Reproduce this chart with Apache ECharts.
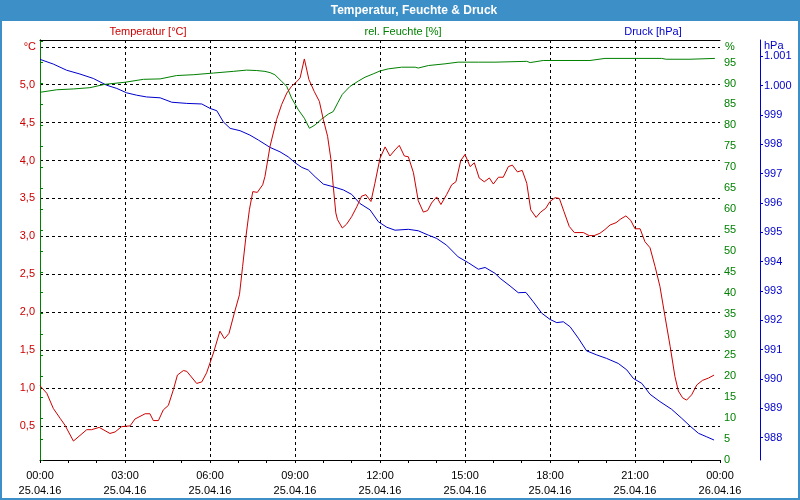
<!DOCTYPE html>
<html>
<head>
<meta charset="utf-8">
<script src="https://cdn.jsdelivr.net/npm/echarts@6/dist/echarts.min.js"></script>
<style>
html,body{margin:0;padding:0;background:#fff;}
#chart{width:800px;height:500px;}
</style>
</head>
<body>
<div id="chart"></div>
<script>
// ---- data (hours since 25.04.16 00:00) ----
const tempTimes = [0,0.24,0.47,0.71,0.88,1.18,1.65,1.82,2.09,2.47,2.65,2.88,3.18,3.35,3.71,3.88,4.0,4.18,4.35,4.53,4.71,4.85,5.06,5.18,5.53,5.71,5.88,6.12,6.35,6.51,6.67,6.86,7.04,7.15,7.27,7.39,7.51,7.67,7.86,7.94,8.12,8.35,8.53,8.71,8.88,9.06,9.18,9.33,9.49,9.68,9.86,10.0,10.15,10.27,10.35,10.44,10.5,10.67,10.82,11.0,11.18,11.35,11.5,11.68,11.82,12.0,12.18,12.35,12.53,12.68,12.86,13.0,13.18,13.35,13.53,13.68,13.82,14.0,14.15,14.35,14.53,14.68,14.85,15.0,15.18,15.33,15.5,15.68,15.86,16.0,16.18,16.35,16.53,16.67,16.85,17.02,17.18,17.32,17.51,17.67,17.85,18.0,18.18,18.33,18.49,18.68,18.86,19.18,19.38,19.56,19.76,19.94,20.12,20.33,20.5,20.68,20.85,21.0,21.18,21.35,21.53,21.71,21.88,22.06,22.24,22.41,22.53,22.68,22.82,23.0,23.18,23.38,23.59,23.79];
const tempValues = [1.03,0.93,0.73,0.60,0.51,0.30,0.45,0.45,0.48,0.40,0.42,0.49,0.50,0.59,0.66,0.66,0.57,0.57,0.71,0.77,0.98,1.17,1.23,1.22,1.06,1.08,1.20,1.46,1.75,1.65,1.72,1.99,2.23,2.60,3.00,3.35,3.59,3.58,3.68,3.79,4.19,4.54,4.74,4.89,4.98,5.04,5.09,5.34,5.07,4.91,4.78,4.54,4.32,4.01,3.66,3.31,3.22,3.11,3.16,3.26,3.39,3.53,3.55,3.46,3.70,4.03,4.18,4.06,4.14,4.20,4.06,4.05,3.84,3.47,3.32,3.34,3.44,3.52,3.42,3.55,3.68,3.72,4.00,4.08,3.92,3.97,3.77,3.72,3.77,3.69,3.78,3.78,3.92,3.94,3.85,3.87,3.70,3.35,3.25,3.32,3.37,3.46,3.51,3.50,3.33,3.13,3.05,3.05,3.01,3.01,3.04,3.09,3.15,3.18,3.23,3.27,3.21,3.10,3.10,2.93,2.85,2.60,2.34,1.94,1.55,1.15,0.96,0.87,0.84,0.91,1.04,1.10,1.13,1.17];

const humTimes = [0,0.59,1.18,1.76,2.29,3.0,3.65,4.24,4.82,5.41,6.12,6.82,7.29,7.65,7.94,8.12,8.29,8.53,8.71,8.88,9.12,9.33,9.51,9.71,9.94,10.18,10.35,10.51,10.67,10.94,11.24,11.47,11.76,12.0,12.29,12.76,13.24,13.35,13.71,14.29,14.76,15.47,16.06,17.18,17.3,17.76,19.41,19.94,21.94,22.1,22.94,23.0,23.82];
const humValues = [87.9,88.5,88.7,89.0,89.8,90.3,91.0,91.1,91.9,92.1,92.5,92.9,93.2,93.1,92.9,92.6,92.1,90.5,89.3,86.5,83.7,81.7,79.3,80.1,81.5,82.7,83.3,85.4,87.4,89.3,90.6,91.5,92.3,93.0,93.5,93.9,93.9,93.7,94.3,94.7,95.1,95.1,95.1,95.3,95.0,95.5,95.5,96.0,96.0,95.8,95.8,96.0,96.0];

const pressTimes = [0,0.47,0.94,1.41,1.88,2.35,2.71,3.06,3.41,3.76,4.24,4.65,5.18,5.71,6.0,6.24,6.47,6.71,7.06,7.41,7.71,8.12,8.47,8.76,9.0,9.24,9.47,9.71,10.0,10.35,10.71,11.0,11.29,11.65,11.94,12.24,12.53,13.0,13.35,13.71,14.0,14.35,14.76,15.12,15.47,15.71,16.06,16.24,16.59,16.88,17.15,17.41,17.71,18.0,18.24,18.47,18.71,19.0,19.29,19.65,20.0,20.41,20.71,20.94,21.24,21.53,21.88,22.29,22.65,22.94,23.24,23.53,23.79];
const pressValues = [1000.89,1000.73,1000.52,1000.39,1000.24,1000.01,999.90,999.75,999.67,999.61,999.58,999.43,999.39,999.37,999.22,999.14,998.76,998.54,998.46,998.31,998.14,997.89,997.74,997.57,997.37,997.21,997.12,996.89,996.64,996.55,996.44,996.29,995.98,995.76,995.36,995.17,995.07,995.10,995.05,994.90,994.79,994.56,994.16,993.96,993.74,993.80,993.60,993.43,993.17,992.94,992.95,992.63,992.24,992.03,991.92,991.95,991.78,991.39,990.96,990.82,990.70,990.53,990.31,990.02,989.85,989.48,989.23,988.97,988.66,988.40,988.15,988.03,987.92];

const tempLabels = [0.5,1.0,1.5,2.0,2.5,3.0,3.5,4.0,4.5,5.0];
const humLabels = [0,5,10,15,20,25,30,35,40,45,50,55,60,65,70,75,80,85,90,95];
const humTicks = [0,5,10,15,20,25,30,35,40,45,50,55,60,65,70,75,80,85,90,95,100];
const pressLabels = [988,989,990,991,992,993,994,995,996,997,998,999,1000,1001];

const RED = '#cc0000', GREEN = '#008000', BLUE = '#0000cc', FRAME = '#3d8fc7';
const FONT = 'Liberation Sans';

const zip = (a, b) => a.map((t, i) => [t, b[i]]);

const chart = echarts.init(document.getElementById('chart'), null, {renderer: 'canvas'});
const dash = {color: '#000', width: 1, type: [3, 3]};

chart.setOption({
  animation: false,
  backgroundColor: '#fff',
  textStyle: {fontFamily: FONT},
  grid: {left: 40, right: 80, top: 40, bottom: 40, containLabel: false, outerBoundsMode: 'none'},
  xAxis: [{
    type: 'value', min: 0, max: 24, interval: 3, position: 'bottom',
    axisLine: {show: true, lineStyle: {color: '#000', width: 1}},
    axisTick: {show: true, inside: false, length: 3, lineStyle: {color: '#000'}},
    minorTick: {show: true, splitNumber: 3, length: 3, lineStyle: {color: '#000'}},
    minorSplitLine: {show: false},
    splitLine: {show: true, showMinLine: false, showMaxLine: false, lineStyle: dash},
    axisLabel: {
      color: '#000', fontFamily: FONT, fontSize: 11, lineHeight: 15, margin: 8,
      formatter: function (v) {
        const h = v % 24;
        return String(h).padStart(2, '0') + ':00\n' + (v >= 24 ? '26.04.16' : '25.04.16');
      }
    }
  }, {
    type: 'value', min: 0, max: 24, position: 'top',
    axisLine: {show: true, lineStyle: {color: '#000', width: 1}},
    axisTick: {show: false}, axisLabel: {show: false}, splitLine: {show: false}
  }],
  yAxis: [{
    type: 'value', position: 'left', min: 0.05, max: 5.59,
    splitNumber: 11, minInterval: 0.5, maxInterval: 0.5,
    axisLine: {show: true, lineStyle: {color: '#000', width: 1}},
    axisTick: {show: false},
    splitLine: {show: true, showMinLine: false, showMaxLine: false, lineStyle: dash},
    axisLabel: {
      customValues: tempLabels, color: RED, fontFamily: FONT, fontSize: 11, margin: 5,
      formatter: v => v.toFixed(1).replace('.', ',')
    }
  }, {
    type: 'value', position: 'right', offset: 0, min: 0, max: 100.4,
    axisLine: {show: true, lineStyle: {color: GREEN, width: 1}},
    axisTick: {show: true, customValues: humTicks, length: 3, lineStyle: {color: GREEN}},
    splitLine: {show: false},
    axisLabel: {customValues: humLabels, color: GREEN, fontFamily: FONT, fontSize: 11, margin: 4}
  }, {
    type: 'value', position: 'right', offset: 40, min: 987.24, max: 1001.55,
    axisLine: {show: true, lineStyle: {color: BLUE, width: 1}},
    axisTick: {show: true, customValues: pressLabels, length: 3, lineStyle: {color: BLUE}},
    splitLine: {show: false},
    axisLabel: {
      customValues: pressLabels, color: BLUE, fontFamily: FONT, fontSize: 11, margin: 4,
      formatter: v => v >= 1000 ? '1.' + String(Math.round(v - 1000)).padStart(3, '0') : String(Math.round(v))
    }
  }],
  series: [{
    name: 'Druck', type: 'line', xAxisIndex: 0, yAxisIndex: 2, data: zip(pressTimes, pressValues),
    showSymbol: false, symbol: 'none', lineStyle: {color: BLUE, width: 1}, itemStyle: {color: BLUE}, z: 3
  }, {
    name: 'Feuchte', type: 'line', xAxisIndex: 0, yAxisIndex: 1, data: zip(humTimes, humValues),
    showSymbol: false, symbol: 'none', lineStyle: {color: GREEN, width: 1}, itemStyle: {color: GREEN}, z: 3
  }, {
    name: 'Temperatur', type: 'line', xAxisIndex: 0, yAxisIndex: 0, data: zip(tempTimes, tempValues),
    showSymbol: false, symbol: 'none', lineStyle: {color: RED, width: 1}, itemStyle: {color: RED}, z: 4
  }],
  graphic: [
    {type: 'rect', shape: {x: 0, y: 0, width: 800, height: 21}, style: {fill: FRAME}, z: 10, silent: true},
    {type: 'rect', shape: {x: 1, y: 1, width: 798, height: 498}, style: {fill: null, stroke: FRAME, lineWidth: 2}, z: 10, silent: true},
    {type: 'text', x: 414, y: 11, z: 11, style: {text: 'Temperatur, Feuchte & Druck', fill: '#fff', font: 'bold 12px "Liberation Sans"', textAlign: 'center', textVerticalAlign: 'middle'}},
    {type: 'text', x: 148, y: 32, z: 11, style: {text: 'Temperatur [°C]', fill: RED, font: '11px "Liberation Sans"', textAlign: 'center', textVerticalAlign: 'middle'}},
    {type: 'text', x: 403, y: 32, z: 11, style: {text: 'rel. Feuchte [%]', fill: GREEN, font: '11px "Liberation Sans"', textAlign: 'center', textVerticalAlign: 'middle'}},
    {type: 'text', x: 653, y: 32, z: 11, style: {text: 'Druck [hPa]', fill: BLUE, font: '11px "Liberation Sans"', textAlign: 'center', textVerticalAlign: 'middle'}},
    {type: 'text', x: 36, y: 47, z: 11, style: {text: '°C', fill: RED, font: '11px "Liberation Sans"', textAlign: 'right', textVerticalAlign: 'middle'}},
    {type: 'text', x: 725, y: 47, z: 11, style: {text: '%', fill: GREEN, font: '11px "Liberation Sans"', textAlign: 'left', textVerticalAlign: 'middle'}},
    {type: 'text', x: 764, y: 46, z: 11, style: {text: 'hPa', fill: BLUE, font: '11px "Liberation Sans"', textAlign: 'left', textVerticalAlign: 'middle'}}
  ]
});
</script>
</body>
</html>
